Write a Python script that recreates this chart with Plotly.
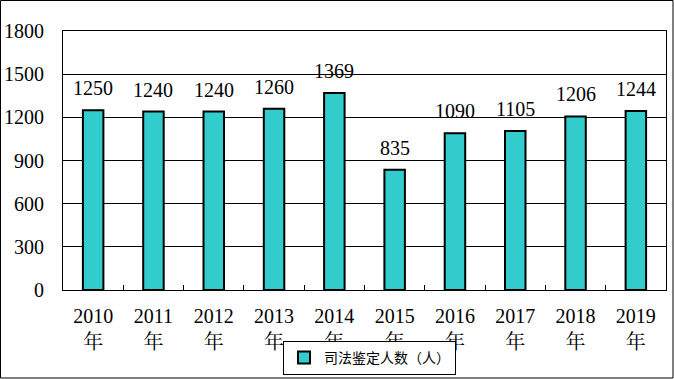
import plotly.graph_objects as go

years = ["2010", "2011", "2012", "2013", "2014", "2015", "2016", "2017", "2018", "2019"]
values = [1250, 1240, 1240, 1260, 1369, 835, 1090, 1105, 1206, 1244]
series_name = "司法鉴定人数（人）"
y_ticks = [0, 300, 600, 900, 1200, 1500, 1800]

cats = [y + "<br>年" for y in years]
serif = "Liberation Serif, Noto Serif CJK SC, Noto Sans CJK SC, serif"

fig = go.Figure()
fig.add_trace(go.Bar(
    x=cats, y=values, name=series_name,
    marker=dict(color="#33CCCC", line=dict(color="black", width=2)),
    showlegend=True,
))

for c, v in zip(cats, values):
    fig.add_annotation(x=c, y=v, text=str(v), showarrow=False, yanchor="middle",
                       yshift=22, font=dict(family=serif, size=20, color="black"))

fig.update_layout(
    width=674, height=379,
    margin=dict(l=63, r=8, t=31, b=89, autoexpand=False),
    paper_bgcolor="white", plot_bgcolor="white",
    bargap=0.66,
    font=dict(family=serif, size=20, color="black"),
    xaxis=dict(
        showline=True, linecolor="black", linewidth=1, mirror=True,
        ticks="inside", tickson="boundaries", ticklen=5, tickcolor="black",
        tickfont=dict(family=serif, size=20), ticklabelstandoff=8,
    ),
    yaxis=dict(
        range=[0, 1800], tickvals=y_ticks, showgrid=True, gridcolor="black", gridwidth=1,
        showline=True, linecolor="black", linewidth=1, mirror=True, ticks="",
        tickfont=dict(family=serif, size=20), zeroline=False, ticklabelstandoff=14,
    ),
    legend=dict(
        orientation="h", x=(369.5 - 63) / 603, xanchor="center", y=-51 / 259, yanchor="top",
        bordercolor="black", borderwidth=1, bgcolor="white",
        font=dict(family="Noto Sans CJK SC, sans-serif", size=14),
    ),
    shapes=[dict(type="rect", xref="paper", yref="paper", x0=-62.5 / 603, x1=1 + 7 / 603,
                 y0=-88 / 259, y1=1 + 30.5 / 259, line=dict(color="black", width=1))],
)

fig.write_html("out.html", config={"displayModeBar": False},
               post_script="document.body.style.margin='0';")
